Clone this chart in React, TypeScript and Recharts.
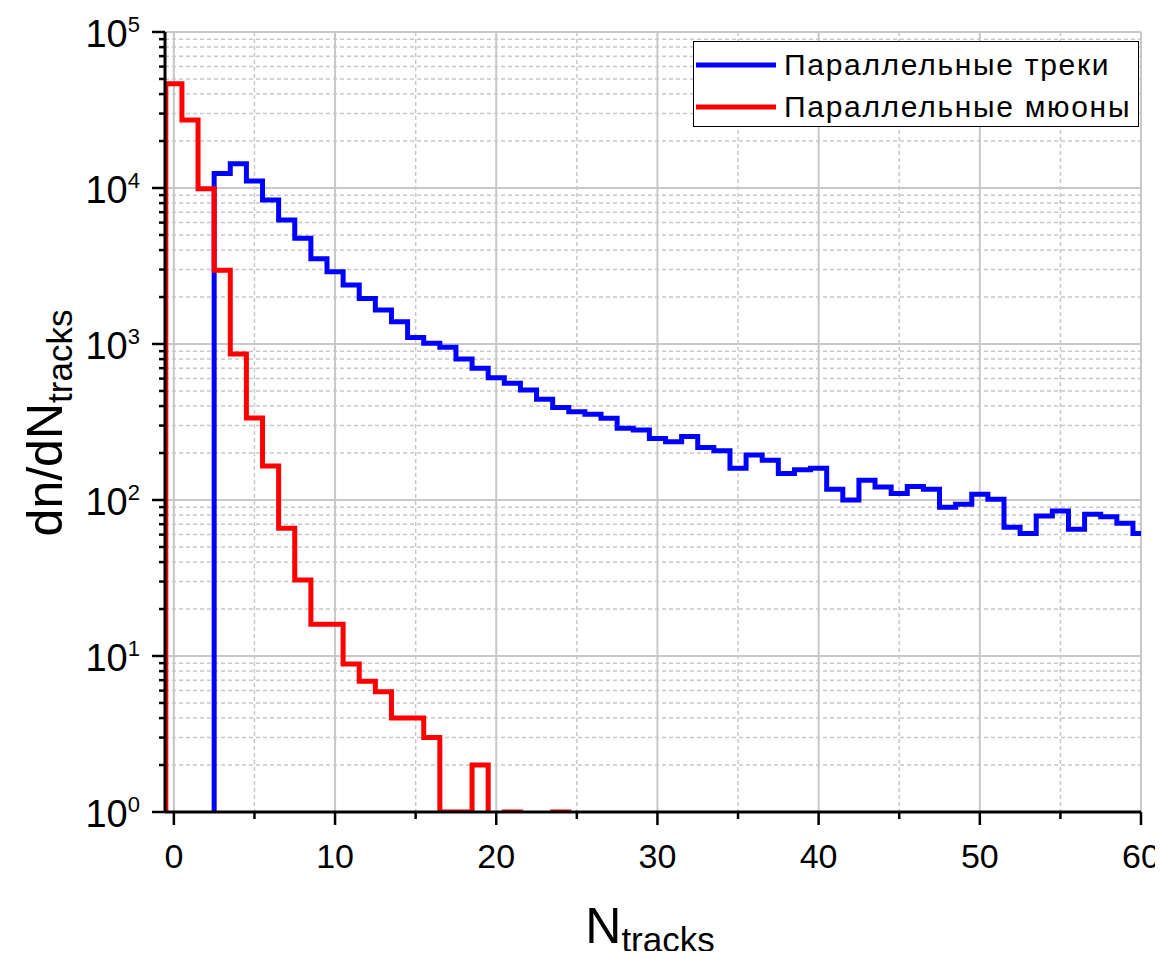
import React from 'react';
import { LineChart, Line, XAxis, YAxis, CartesianGrid, Legend } from 'recharts';

// Bin centres (N_tracks)
const binCenters = [
  0, 1, 2, 3, 4, 5, 6, 7, 8, 9, 10, 11, 12, 13, 14, 15, 16, 17, 18, 19, 20,
  21, 22, 23, 24, 25, 26, 27, 28, 29, 30, 31, 32, 33, 34, 35, 36, 37, 38, 39, 40,
  41, 42, 43, 44, 45, 46, 47, 48, 49, 50, 51, 52, 53, 54, 55, 56, 57, 58, 59, 60,
];

// "Параллельные треки" (blue)
const parallelTracks = [
  0, 0, 0, 12400, 14300, 11100, 8370, 6240, 4760, 3520, 2900,
  2390, 1960, 1650, 1390, 1100, 1010, 952, 802, 699, 608,
  560, 507, 442, 391, 368, 354, 334, 288, 281, 248,
  236, 255, 217, 207, 160, 194, 180, 148, 156, 160,
  117, 100, 134, 121, 110, 122, 117, 90, 94, 109,
  101, 67, 61, 79, 85, 65, 81, 78, 71, 61,
];

// "Параллельные мюоны" (red)
const parallelMuons = [
  46600, 27300, 9900, 2970, 863, 336, 165, 66, 30.7, 16, 16,
  8.9, 6.9, 5.9, 4, 4, 3, 1, 1, 2, 0,
  1, 0, 0, 1, 0, 0, 0, 0, 0, 0,
  0, 0, 0, 0, 0, 0, 0, 0, 0, 0,
  0, 0, 0, 0, 0, 0, 0, 0, 0, 0,
  0, 0, 0, 0, 0, 0, 0, 0, 0, 0,
];

const xMajorTicks = [0, 10, 20, 30, 40, 50, 60];
const xMinorTicks = [5, 15, 25, 35, 45, 55];
const yMajorTicks = [1, 10, 100, 1000, 10000, 100000];
const yMinorTicks = [
  2, 3, 4, 5, 6, 7, 8, 9,
  20, 30, 40, 50, 60, 70, 80, 90,
  200, 300, 400, 500, 600, 700, 800, 900,
  2000, 3000, 4000, 5000, 6000, 7000, 8000, 9000,
  20000, 30000, 40000, 50000, 60000, 70000, 80000, 90000,
];

const seriesNames = ['Параллельные треки', 'Параллельные мюоны'];
const seriesColors = ['#0000ff', '#ff0000'];

const FONT = '"Liberation Sans", Arial, sans-serif';
const FLOOR = 0.01; // empty bins fall below the log axis and get clipped

function toSteps(values: number[]) {
  const pts: { x: number; y: number }[] = [{ x: binCenters[0] - 0.5, y: FLOOR }];
  values.forEach((v, i) => {
    const y = v > 0 ? v : FLOOR;
    pts.push({ x: binCenters[i] - 0.5, y }, { x: binCenters[i] + 0.5, y });
  });
  return pts;
}

const tracksSteps = toSteps(parallelTracks);
const muonsSteps = toSteps(parallelMuons);

const allXTicks = [...xMajorTicks, ...xMinorTicks].sort((a, b) => a - b);
const allYTicks = [...yMajorTicks, ...yMinorTicks].sort((a, b) => a - b);

const XTick = (props: any) => {
  const { x, y, payload } = props;
  const v = payload.value;
  const major = xMajorTicks.includes(v);
  return (
    <g>
      <line x1={x} x2={x} y1={y} y2={y + (major ? 13 : 7)} stroke="#000" strokeWidth={2.5} />
      {major && (
        <text x={x} y={y + 56} textAnchor="middle" fontFamily={FONT} fontSize={34} fill="#000">
          {v}
        </text>
      )}
    </g>
  );
};

const YTick = (props: any) => {
  const { x, y, payload } = props;
  const v = payload.value;
  const major = yMajorTicks.includes(v);
  const exp = Math.round(Math.log10(v));
  return (
    <g>
      <line x1={x} x2={x - (major ? 13 : 6)} y1={y} y2={y} stroke="#000" strokeWidth={2.5} />
      {major && (
        <text x={x - 25} y={y + 14.5} textAnchor="end" fontFamily={FONT} fill="#000">
          <tspan fontSize={38}>10</tspan>
          <tspan fontSize={22} dy={-14.5}>{exp}</tspan>
        </text>
      )}
    </g>
  );
};

const renderLegend = () => (
  <div
    style={{
      boxSizing: 'border-box',
      width: 446,
      height: 86,
      border: '1.5px solid #000',
      background: '#fff',
      position: 'relative',
      fontFamily: FONT,
    }}
  >
    {seriesNames.map((name, i) => (
      <div
        key={name}
        style={{
          position: 'absolute',
          left: 0,
          top: i === 0 ? 23 - 20 : 65 - 20,
          height: 40,
          display: 'flex',
          alignItems: 'center',
        }}
      >
        <svg width={88} height={40} style={{ display: 'block' }}>
          <line x1={2} x2={82} y1={20} y2={20} stroke={seriesColors[i]} strokeWidth={5} />
        </svg>
        <span style={{ fontSize: 30, letterSpacing: 1.7, color: '#000', whiteSpace: 'nowrap', marginLeft: 2 }}>
          {name}
        </span>
      </div>
    ))}
  </div>
);

export default function App() {
  return (
    <div style={{ margin: -8, width: 1163, height: 959, background: '#fff', overflow: 'hidden' }}>
      <LineChart width={1163} height={959} margin={{ top: 32, right: 22, left: 0, bottom: 0 }}>
        <CartesianGrid
          horizontalValues={yMinorTicks}
          verticalValues={xMinorTicks}
          stroke="#c8c8c8"
          strokeWidth={1.5}
          strokeDasharray="4 3"
        />
        <CartesianGrid
          horizontalValues={yMajorTicks}
          verticalValues={xMajorTicks}
          stroke="#c8c8c8"
          strokeWidth={2}
        />
        <XAxis
          type="number"
          dataKey="x"
          domain={[-0.55, 60]}
          allowDataOverflow
          ticks={allXTicks}
          interval={0}
          tick={<XTick />}
          tickLine={false}
          tickSize={0}
          tickMargin={0}
          axisLine={{ stroke: '#000', strokeWidth: 3 }}
          height={147}
          label={{
            content: () => (
              <text x={650} y={943} textAnchor="middle" fontFamily={FONT} fill="#000">
                <tspan fontSize={50}>N</tspan>
                <tspan fontSize={35} dy={9}>tracks</tspan>
              </text>
            ),
          }}
        />
        <YAxis
          type="number"
          scale="log"
          domain={[1, 100000]}
          allowDataOverflow
          ticks={allYTicks}
          interval={0}
          tick={<YTick />}
          tickLine={false}
          tickSize={0}
          tickMargin={0}
          axisLine={{ stroke: '#000', strokeWidth: 3 }}
          width={165}
          label={{
            content: () => (
              <text
                x={62}
                y={423}
                transform="rotate(-90 62 423)"
                textAnchor="middle"
                fontFamily={FONT}
                fill="#000"
              >
                <tspan fontSize={50}>dn/dN</tspan>
                <tspan fontSize={35} dy={10}>tracks</tspan>
              </text>
            ),
          }}
        />
        <Legend
          layout="horizontal"
          verticalAlign="middle"
          align="center"
          content={renderLegend}
          wrapperStyle={{ position: 'absolute', left: 693, top: 41, width: 446, height: 86 }}
        />
        <Line
          data={tracksSteps}
          dataKey="y"
          name={seriesNames[0]}
          type="linear"
          stroke={seriesColors[0]}
          strokeWidth={5}
          strokeLinejoin="miter"
          dot={false}
          activeDot={false}
          isAnimationActive={false}
        />
        <Line
          data={muonsSteps}
          dataKey="y"
          name={seriesNames[1]}
          type="linear"
          stroke={seriesColors[1]}
          strokeWidth={5}
          strokeLinejoin="miter"
          dot={false}
          activeDot={false}
          isAnimationActive={false}
        />
      </LineChart>
    </div>
  );
}
